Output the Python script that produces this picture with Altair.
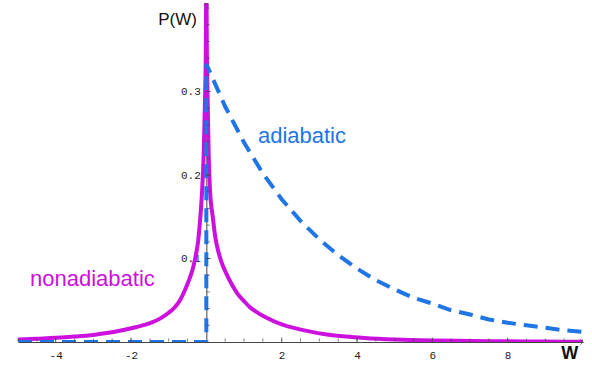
import altair as alt
import pandas as pd

# ---- data ----
ad_w = [-5.0, 0.0, 0.0, 0.5, 1.0, 1.5, 2.0, 2.5, 3.0, 3.5, 4.0, 4.5, 5.0,
        5.5, 6.0, 6.5, 7.0, 7.5, 8.0, 8.5, 9.0, 9.5, 10.0]
ad_p = [0.0, 0.0, 0.333, 0.282, 0.239, 0.202, 0.171, 0.145, 0.123, 0.104,
        0.088, 0.074, 0.063, 0.053, 0.046, 0.038, 0.033, 0.027, 0.023,
        0.020, 0.017, 0.014, 0.012]

non_w = [-5.0, -4.5, -4.0, -3.5, -3.0, -2.6, -2.3, -1.85, -1.5, -1.23, -1.0,
         -0.83, -0.7, -0.57, -0.47, -0.39, -0.32, -0.27, -0.22, -0.18, -0.12,
         -0.07, -0.035, -0.012, 0.0, 0.012, 0.035, 0.06, 0.1, 0.17, 0.24,
         0.32, 0.4, 0.55, 0.7, 0.84, 1.0, 1.15, 1.4, 1.6, 2.0, 2.4, 2.7,
         3.2, 3.7, 4.2, 5.0, 6.0, 7.0, 8.0, 9.0, 10.0]
non_p = [0.003, 0.004, 0.005, 0.0065, 0.0085, 0.011, 0.0135, 0.018, 0.0225,
         0.028, 0.035, 0.042, 0.05, 0.062, 0.073, 0.083, 0.095, 0.106, 0.12,
         0.138, 0.175, 0.225, 0.29, 0.36, 0.45, 0.36, 0.29, 0.23, 0.18,
         0.15, 0.125, 0.108, 0.096, 0.08, 0.067, 0.057, 0.049, 0.042, 0.034,
         0.029, 0.021, 0.016, 0.013, 0.009, 0.0065, 0.0048, 0.003, 0.0018,
         0.0012, 0.0008, 0.0005, 0.0003]

x_major = [-4, -2, 2, 4, 6, 8]
x_minor = [v / 2 for v in range(-10, 20) if v != 0]
y_major = [0.1, 0.2, 0.3]
y_minor = [round(v * 0.02, 2) for v in range(1, 21)]

label_text = ["adiabatic", "nonadiabatic"]
label_w = [1.37, -4.68]
label_p = [0.238, 0.0674]

X_DOMAIN = [-5, 10]
Y_DOMAIN = [0, 0.406]
W, H = 565, 339
Y_AXIS_PX = W * (0 - X_DOMAIN[0]) / (X_DOMAIN[1] - X_DOMAIN[0])

BLUE = "#1f74e6"
MAGENTA = "#cc10dd"
AXIS = "#444444"
MONO = "Liberation Mono"
SANS = "Liberation Sans"

ad_df = pd.DataFrame({"W": ad_w, "P": ad_p, "i": list(range(len(ad_w)))})
non_df = pd.DataFrame({"W": non_w, "P": non_p})

xs = alt.Scale(domain=X_DOMAIN, nice=False, zero=False)
ys = alt.Scale(domain=Y_DOMAIN, nice=False, zero=False)

# layer 1: nonadiabatic curve + labelled axes crossing at the origin
nonad = alt.Chart(non_df).mark_line(
    color=MAGENTA, strokeWidth=4, interpolate="monotone", clip=True
).encode(
    x=alt.X("W:Q", scale=xs, axis=alt.Axis(
        orient="bottom", values=x_major, ticks=False, tickSize=0,
        labelExpr="'' + datum.value", labelFont=MONO, labelFontSize=11,
        labelColor="#222", labelPadding=7, domainColor=AXIS, domainWidth=1,
        grid=False, title=None)),
    y=alt.Y("P:Q", scale=ys, axis=alt.Axis(
        orient="left", offset=-Y_AXIS_PX, values=y_major, ticks=False,
        tickSize=0, labelExpr="format(datum.value, '.1f')", labelFont=MONO,
        labelFontSize=11, labelColor="#222", labelPadding=6,
        domainColor=AXIS, domainWidth=1, grid=False, title=None)),
)

# layer 2: adiabatic curve
adiab = alt.Chart(ad_df).mark_line(
    color=BLUE, strokeWidth=4, strokeDash=[14, 8], strokeCap="butt", clip=True
).encode(
    x=alt.X("W:Q", scale=xs),
    y=alt.Y("P:Q", scale=ys),
    order="i:Q",
)

# inward-pointing ticks
tick_x_df = pd.DataFrame({
    "W": x_minor + x_major,
    "s": [3] * len(x_minor) + [5] * len(x_major),
})
tick_y_df = pd.DataFrame({
    "P": y_minor + y_major,
    "s": [3] * len(y_minor) + [5] * len(y_major),
})
xt = alt.Chart(tick_x_df).mark_tick(
    color=AXIS, thickness=1, orient="vertical", yOffset=-2
).encode(
    x=alt.X("W:Q", scale=xs),
    y=alt.value(H),
    size=alt.Size("s:Q", scale=None, legend=None),
)
yt = alt.Chart(tick_y_df).mark_tick(
    color=AXIS, thickness=1, orient="horizontal", xOffset=2
).encode(
    y=alt.Y("P:Q", scale=ys),
    x=alt.value(Y_AXIS_PX),
    size=alt.Size("s:Q", scale=None, legend=None),
)

# curve labels
lab_df = pd.DataFrame({
    "W": label_w, "P": label_p, "t": label_text, "c": [BLUE, MAGENTA],
})
labels = alt.Chart(lab_df).mark_text(
    font=SANS, fontSize=22, align="left", baseline="alphabetic"
).encode(
    x=alt.X("W:Q", scale=xs),
    y=alt.Y("P:Q", scale=ys),
    text="t:N",
    color=alt.Color("c:N", scale=None),
)

# axis titles
ptitle = alt.Chart(pd.DataFrame({"W": [-0.25], "P": [0.386], "t": ["P(W)"]})).mark_text(
    font=SANS, fontSize=17, align="right", baseline="middle", color="#111"
).encode(
    x=alt.X("W:Q", scale=xs),
    y=alt.Y("P:Q", scale=ys),
    text="t:N",
)

wtitle = alt.Chart(pd.DataFrame({"W": [9.65], "P": [-0.0144], "t": ["W"]})).mark_text(
    font=SANS, fontSize=18, fontWeight="bold", align="center",
    baseline="middle", color="#111"
).encode(
    x=alt.X("W:Q", scale=xs),
    y=alt.Y("P:Q", scale=ys),
    text="t:N",
)

# axis arrow heads
arrow_r = alt.Chart(pd.DataFrame({"W": [X_DOMAIN[1]], "P": [0.0]})).mark_point(
    shape="M-1,-1L0,0L-1,1", filled=False, stroke=AXIS, strokeWidth=1, size=30
).encode(x=alt.X("W:Q", scale=xs), y=alt.Y("P:Q", scale=ys))
arrow_u = alt.Chart(pd.DataFrame({"W": [0.0], "P": [Y_DOMAIN[1]]})).mark_point(
    shape="M-1,1L0,0L1,1", filled=False, stroke=AXIS, strokeWidth=1, size=30
).encode(x=alt.X("W:Q", scale=xs), y=alt.Y("P:Q", scale=ys))

chart = alt.layer(
    nonad, adiab, xt, yt, labels, ptitle, wtitle, arrow_r, arrow_u
).properties(
    width=W, height=H,
    autosize=alt.AutoSizeParams(type="none"),
    padding={"left": 18, "top": 3, "right": 9, "bottom": 26},
    background="white",
).configure_view(stroke=None)

chart.save("out.html", embed_options={"renderer": "svg", "actions": False})
